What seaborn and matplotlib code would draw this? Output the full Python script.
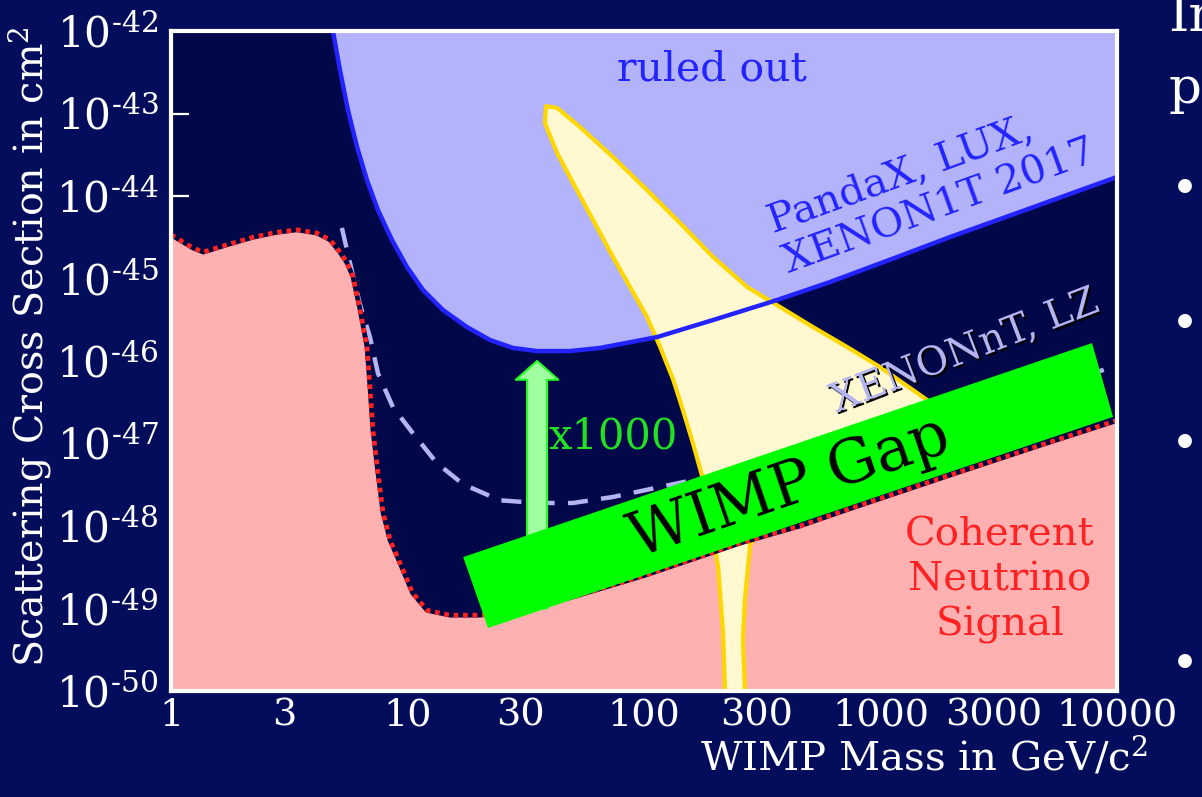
import numpy as np
import pandas as pd
import matplotlib
matplotlib.use("Agg")
import matplotlib.pyplot as plt
import matplotlib.patheffects as pe
from matplotlib.ticker import NullLocator
import seaborn as sns

# ---------------------------------------------------------------- data
mass_ticks = [1, 3, 10, 30, 100, 300, 1000, 3000, 10000]
mass_tick_labels = ["1", "3", "10", "30", "100", "300", "1000", "3000", "10000"]
sigma_exponents = [-50, -49, -48, -47, -46, -45, -44, -43, -42]

# Current exclusion limit (PandaX, LUX, XENON1T 2017)
limit_mass = [4.84, 5.18, 5.60, 6.12, 6.74, 7.50, 8.60, 9.95, 11.63, 14.13, 17.85,
              22.3, 27.9, 35.3, 48.6, 65.2, 113.5, 196, 365, 612, 1175, 1967,
              4470, 10000]
limit_sigma = [1.0e-42, 3.37e-43, 1.10e-43, 3.93e-44, 1.56e-44, 6.76e-45, 2.93e-45,
               1.38e-45, 7.26e-46, 4.15e-46, 2.58e-46, 1.80e-46, 1.44e-46, 1.32e-46,
               1.32e-46, 1.44e-46, 1.95e-46, 3.14e-46, 5.48e-46, 9.07e-46, 1.82e-45,
               3.18e-45, 7.4e-45, 1.70e-44]

# Projected sensitivity (XENONnT, LZ)
proj_mass = [5.28, 5.71, 6.30, 6.94, 7.5, 8.68, 10.5, 13.3, 17.2, 24.6, 35.3, 50,
             74, 103, 146, 316, 562, 1000, 2100, 9080, 10000]
proj_sigma = [4.1e-45, 1.55e-45, 4.8e-46, 1.95e-46, 7.1e-47, 2.75e-47, 1.35e-47,
              5.8e-48, 3.2e-48, 2.05e-48, 1.9e-48, 1.9e-48, 2.25e-48, 2.75e-48,
              3.4e-48, 5.2e-48, 7.4e-48, 1.07e-47, 1.86e-47, 8.1e-47, 8.9e-47]

# Coherent neutrino scattering floor
floor_mass = [1.0, 1.24, 1.37, 1.73, 2.22, 2.8, 3.41, 4.14, 4.70, 5.18, 5.55, 5.88,
              6.30, 6.74, 6.94, 7.14, 7.50, 7.88, 8.43, 9.30, 10.5, 12.1, 15.1, 20.3,
              30, 50, 100, 255, 457, 743, 2000, 5000, 10000]
floor_sigma = [3.39e-45, 2.34e-45, 2.09e-45, 2.57e-45, 3.16e-45, 3.63e-45, 3.89e-45,
               3.55e-45, 2.95e-45, 2.09e-45, 1.55e-45, 1.05e-45, 4.2e-46, 1.48e-46,
               4.8e-47, 1.45e-47, 4.4e-48, 1.45e-48, 6.8e-49, 3.55e-49, 1.55e-49,
               9.5e-50, 8.3e-50, 8.3e-50, 9.5e-50, 1.38e-49, 2.5e-49, 6.2e-49,
               1.0e-48, 1.62e-48, 4.2e-48, 1.0e-47, 1.9e-47]

# Theory-favoured region (closed contour: left edge up, tip, right edge down)
model_mass = [220, 216, 206, 178, 161, 146, 133, 117, 103, 87.3, 73.9, 60.9, 50.1,
              42.9, 38.1, 38.5, 42.9, 53.6, 73.9, 103, 142, 196, 273, 376, 518,
              722, 995, 1372, 1573, 2170, 1210, 457, 310, 281, 267, 262, 267]
model_sigma = [1.0e-50, 5.0e-50, 3.16e-49, 3.6e-48, 1.01e-47, 2.55e-47, 5.89e-47,
               1.48e-46, 3.41e-46, 7.89e-46, 1.82e-45, 5.12e-45, 1.44e-44, 3.32e-44,
               7.67e-44, 1.23e-43, 1.17e-43, 6.86e-44, 2.97e-44, 1.18e-44, 4.71e-45,
               1.82e-45, 7.89e-46, 4.52e-46, 2.58e-46, 1.48e-46, 8.45e-47, 4.45e-47,
               3.37e-47, 1.9e-47, 7.2e-48, 2.75e-48, 1.0e-48, 5.9e-49, 1.26e-49,
               4.2e-50, 1.0e-50]

# WIMP gap band corners
gap_mass = [17.2, 21.9, 9620, 7840]
gap_sigma = [4.2e-49, 5.8e-50, 2.1e-47, 1.65e-46]

# Sensitivity gain arrow
gain_mass = 35.3
gain_from, gain_to = 1e-49, 1e-46

# ---------------------------------------------------------------- style
NAVY_FIG = "#030d5c"
NAVY_AX = "#010849"
BLUE = "#2323ff"
BLUE_FILL = "#b3b3fc"
PINK = "#ffb1b1"
RED = "#ff2222"
GOLD = "#ffd700"
CREAM = "#fff8d0"
LAVENDER = "#b4b4f2"
GREEN = "#00ff00"

sns.set_style("ticks")
plt.rcParams.update({
    "font.family": ["DejaVu Serif"],
    "mathtext.fontset": "dejavuserif",
    "axes.linewidth": 3,
})

fig = plt.figure(figsize=(12.02, 7.97), dpi=100, facecolor=NAVY_FIG)
ax = fig.add_axes([171 / 1202, 106 / 797, 946 / 1202, 660 / 797])
ax.set_facecolor(NAVY_AX)
ax.set_xscale("log")
ax.set_yscale("log")

# ruled-out region
ax.fill_between(limit_mass, limit_sigma, 1e-40, color=BLUE_FILL, lw=0, zorder=1)
# neutrino floor region
ax.fill_between(floor_mass, floor_sigma, 1e-52, color=PINK, lw=0, zorder=1)

# projected sensitivity
proj_df = pd.DataFrame({"mass": proj_mass, "sigma": proj_sigma})
sns.lineplot(data=proj_df, x="mass", y="sigma", ax=ax, color=LAVENDER, lw=3.2,
             linestyle=(0, (4.5, 3)), estimator=None, sort=False, zorder=2)

# theory region
ax.fill(model_mass, model_sigma, facecolor=CREAM, edgecolor=GOLD, lw=3,
        joinstyle="round", zorder=3)

# current limit line
limit_df = pd.DataFrame({"mass": limit_mass, "sigma": limit_sigma})
sns.lineplot(data=limit_df, x="mass", y="sigma", ax=ax, color=BLUE, lw=3.2,
             estimator=None, sort=False, zorder=4, solid_joinstyle="round")

# neutrino floor boundary
floor_df = pd.DataFrame({"mass": floor_mass, "sigma": floor_sigma})
sns.lineplot(data=floor_df, x="mass", y="sigma", ax=ax, color="#000640", lw=3.4,
             estimator=None, sort=False, zorder=4)
sns.lineplot(data=floor_df, x="mass", y="sigma", ax=ax, color=RED, lw=3.4,
             linestyle=(0, (1, 1)), estimator=None, sort=False, zorder=4)

# sensitivity gain arrow
ax.annotate("", xy=(gain_mass, gain_to), xytext=(gain_mass, gain_from),
            arrowprops=dict(arrowstyle="simple,head_length=0.75,head_width=1.7,tail_width=0.8",
                            fc="#a0ffa0", ec="#22ff22", lw=1.5, shrinkA=0, shrinkB=0,
                            mutation_scale=18),
            zorder=5)

# WIMP gap band
ax.fill(gap_mass, gap_sigma, color=GREEN, lw=0, zorder=6)

ax.set_xlim(1, 1e4)
ax.set_ylim(1e-50, 1e-42)

# ---------------------------------------------------------------- labels
ax.text(194, 3.4e-43, "ruled out", color=BLUE, fontsize=29.5, ha="center",
        va="center", zorder=7)
ax.text(1652, 1.29e-44, "PandaX, LUX,\nXENON1T 2017", color=BLUE, fontsize=29,
        ha="center", va="center", multialignment="left", rotation=20,
        rotation_mode="anchor", linespacing=1.25, zorder=7)
ax.text(2277, 1.3e-46, "XENONnT, LZ", color=LAVENDER, fontsize=28.5, ha="center",
        va="center", rotation=21, rotation_mode="anchor", zorder=7,
        path_effects=[pe.withSimplePatchShadow(offset=(1.5, -1.5),
                                               shadow_rgbFace="black", alpha=1)])
ax.text(39.3, 1.2e-47, "x1000", color="#22e022", fontsize=30, ha="left",
        va="center", zorder=7)
ax.text(414, 2.9e-48, "WIMP Gap", color="black", fontsize=44, ha="center",
        va="center", rotation=18.8, rotation_mode="anchor", zorder=7)
ax.text(3200, 2.2e-49, "Coherent\nNeutrino\nSignal", color=RED, fontsize=29,
        ha="center", va="center", linespacing=1.28, zorder=7)

# ---------------------------------------------------------------- axes
ax.set_xticks(mass_ticks)
ax.set_xticklabels(mass_tick_labels)
ax.set_yticks([10.0 ** e for e in sigma_exponents])
ax.set_yticklabels([r"$10^{\text{%d}}$" % e for e in sigma_exponents])
ax.xaxis.set_minor_locator(NullLocator())
ax.yaxis.set_minor_locator(NullLocator())
ax.tick_params(axis="both", which="major", direction="in", length=13, width=1.6,
               color="white", labelcolor="white", top=False, right=False)
ax.tick_params(axis="x", labelsize=27.5, pad=5)
ax.tick_params(axis="y", labelsize=30.5, pad=9)
for spine in ax.spines.values():
    spine.set_color("white")
    spine.set_linewidth(3)
    spine.set_zorder(8)

ax.set_xlabel("WIMP Mass in GeV/c$^{2}$", color="white", fontsize=29)
ax.xaxis.label.set_horizontalalignment("right")
ax.xaxis.set_label_coords(1.033, -0.068)
ax.set_ylabel("Scattering Cross Section in cm$^{2}$", color="white", fontsize=28.5)
ax.yaxis.set_label_coords(-0.125, 0.522)

# slide text at the right edge
fig.text(1168 / 1202, 1 - 31 / 797, "In", color="white", fontsize=37, va="baseline")
fig.text(1168 / 1202, 1 - 103 / 797, "p", color="white", fontsize=37, va="baseline")
for yb in [185, 320, 440, 660]:
    fig.text(1185 / 1202, 1 - yb / 797, "\u2022", color="white", fontsize=34,
             ha="center", va="center_baseline")

fig.savefig("out.png", dpi=100, facecolor=NAVY_FIG)
